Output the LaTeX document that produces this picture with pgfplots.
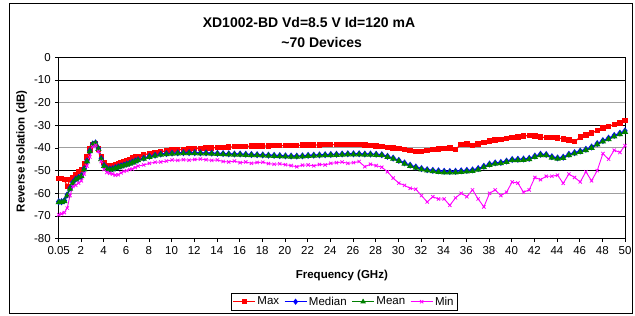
\documentclass[border=0pt]{standalone}
\usepackage{pgfplots}
\pgfplotsset{compat=1.18}
\usepackage{pgfplotstable}
\usepackage{fontspec}
\setmainfont{Liberation Sans}

\pgfplotstableread{
x y
0.05 -53.5
0.3 -53.5
0.55 -54
0.8 -57
1.05 -54
1.3 -53
1.55 -52
1.8 -50.5
2.05 -49.5
2.3 -47
2.55 -44
2.8 -40.5
3.05 -38.5
3.3 -38
3.55 -40.5
3.8 -44
4.05 -46.5
4.3 -47.8
4.55 -48.2
4.8 -48
5.05 -47.5
5.3 -47
5.55 -46.5
5.8 -46
6.05 -45.5
6.3 -45
6.55 -44.5
6.8 -44
7.05 -43.7
7.55 -43
8.05 -42.5
8.55 -42
9.05 -41.6
9.55 -41.3
10.05 -41
10.55 -40.8
11.05 -40.6
11.55 -40.5
12.05 -40.3
12.55 -40.2
13.05 -40
13.55 -40
14.05 -39.8
14.55 -39.7
15.05 -39.6
15.55 -39.5
16.05 -39.4
16.55 -39.3
17.05 -39.2
17.55 -39.2
18.05 -39.1
18.55 -39.2
19.05 -39
19.55 -39
20.05 -39
20.55 -38.9
21.05 -38.9
21.55 -38.8
22.05 -38.8
22.55 -38.7
23.05 -38.7
23.55 -38.6
24.05 -38.6
24.55 -38.5
25.05 -38.5
25.55 -38.4
26.05 -38.5
26.55 -38.5
27.05 -38.8
27.55 -39
28.05 -39.2
28.55 -39.5
29.05 -39.7
29.55 -40
30.05 -40.3
30.55 -40.8
31.05 -41.2
31.55 -41.6
32.05 -41.5
32.55 -41.2
33.05 -40.8
33.55 -40.4
34.05 -40.2
34.55 -40
35.05 -40.6
35.55 -38.5
36.05 -38.2
36.55 -39
37.05 -38.2
37.55 -37.5
38.05 -37
38.55 -36.5
39.05 -36.2
39.55 -35.8
40.05 -35.5
40.55 -35.2
41.05 -34.8
41.55 -34.5
42.05 -34.7
42.55 -35.2
43.05 -35.5
43.55 -35.3
44.05 -35.6
44.55 -36
45.05 -36.5
45.55 -37.3
46.05 -35.2
46.55 -34.3
47.05 -33.5
47.55 -32.3
48.05 -31.2
48.55 -30.5
49.05 -29.7
49.55 -29
50 -28
}\maxdata

\pgfplotstableread{
x y
0.05 -63.7
0.3 -63.7
0.55 -63.2
0.8 -60.7
1.05 -57.7
1.3 -55.2
1.55 -53.7
1.8 -53
2.05 -52.2
2.3 -49.2
2.55 -45.7
2.8 -41.2
3.05 -38.3
3.3 -37.8
3.55 -40.3
3.8 -44.7
4.05 -47.7
4.3 -49
4.55 -49.3
4.8 -49.2
5.05 -48.7
5.3 -48.3
5.55 -47.9
5.8 -47.5
6.05 -47.1
6.3 -46.7
6.55 -46.2
6.8 -45.7
7.05 -45.2
7.55 -44.5
8.05 -43.7
8.55 -43.2
9.05 -42.7
9.55 -42.5
10.05 -42.3
10.55 -42.2
11.05 -42.1
11.55 -42.1
12.05 -42.1
12.55 -42.2
13.05 -42.2
13.55 -42.3
14.05 -42.4
14.55 -42.5
15.05 -42.6
15.55 -42.7
16.05 -42.7
16.55 -42.8
17.05 -42.9
17.55 -43
18.05 -43.1
18.55 -43.2
19.05 -43.3
19.55 -43.4
20.05 -43.5
20.55 -43.6
21.05 -43.6
21.55 -43.5
22.05 -43.3
22.55 -43.2
23.05 -43.1
23.55 -43
24.05 -42.9
24.55 -42.8
25.05 -42.7
25.55 -42.6
26.05 -42.6
26.55 -42.6
27.05 -42.7
27.55 -42.7
28.05 -42.8
28.55 -43
29.05 -43.7
29.55 -44.5
30.05 -45.5
30.55 -46.6
31.05 -47.6
31.55 -48.4
32.05 -49.1
32.55 -49.6
33.05 -49.9
33.55 -50.1
34.05 -50.3
34.55 -50.4
35.05 -50.3
35.55 -50.1
36.05 -49.9
36.55 -49.7
37.05 -49.1
37.55 -48.1
38.05 -47.1
38.55 -46.6
39.05 -46.4
39.55 -45.8
40.05 -45.1
40.55 -45
41.05 -44.9
41.55 -44.6
42.05 -43.6
42.55 -42.8
43.05 -42.9
43.55 -43.9
44.05 -44.4
44.55 -44.1
45.05 -42.8
45.55 -42.1
46.05 -41.4
46.55 -40.6
47.05 -39.6
47.55 -38.1
48.05 -36.8
48.55 -35.7
49.05 -34.5
49.55 -33.5
50 -32.5
}\mediandata

\pgfplotstableread{
x y
0.05 -64
0.3 -64
0.55 -63.5
0.8 -61
1.05 -58
1.3 -55.5
1.55 -54
1.8 -53.3
2.05 -52.5
2.3 -49.5
2.55 -46
2.8 -41.5
3.05 -38.5
3.3 -38
3.55 -40.5
3.8 -45
4.05 -48
4.3 -49.3
4.55 -49.6
4.8 -49.5
5.05 -49
5.3 -48.6
5.55 -48.2
5.8 -47.8
6.05 -47.4
6.3 -47
6.55 -46.5
6.8 -46
7.05 -45.5
7.55 -44.8
8.05 -44
8.55 -43.5
9.05 -43
9.55 -42.8
10.05 -42.6
10.55 -42.5
11.05 -42.4
11.55 -42.4
12.05 -42.4
12.55 -42.5
13.05 -42.5
13.55 -42.6
14.05 -42.7
14.55 -42.8
15.05 -42.9
15.55 -43
16.05 -43
16.55 -43.1
17.05 -43.2
17.55 -43.3
18.05 -43.4
18.55 -43.5
19.05 -43.6
19.55 -43.7
20.05 -43.8
20.55 -43.9
21.05 -43.9
21.55 -43.8
22.05 -43.6
22.55 -43.5
23.05 -43.4
23.55 -43.3
24.05 -43.2
24.55 -43.1
25.05 -43
25.55 -42.9
26.05 -42.9
26.55 -42.9
27.05 -43
27.55 -43
28.05 -43.1
28.55 -43.3
29.05 -44
29.55 -44.8
30.05 -45.8
30.55 -47
31.05 -48
31.55 -48.8
32.05 -49.5
32.55 -50
33.05 -50.3
33.55 -50.6
34.05 -50.8
34.55 -50.9
35.05 -50.8
35.55 -50.6
36.05 -50.4
36.55 -50.2
37.05 -49.6
37.55 -48.5
38.05 -47.5
38.55 -47
39.05 -46.8
39.55 -46.2
40.05 -45.5
40.55 -45.4
41.05 -45.3
41.55 -45
42.05 -44
42.55 -43.2
43.05 -43.3
43.55 -44.3
44.05 -44.8
44.55 -44.5
45.05 -43.2
45.55 -42.5
46.05 -41.8
46.55 -41
47.05 -40
47.55 -38.5
48.05 -37.2
48.55 -36.2
49.05 -35
49.55 -34
50 -33
}\meandata

\pgfplotstableread{
x y
0.05 -69.5
0.3 -69
0.55 -68.5
0.8 -66.5
1.05 -61
1.3 -57
1.55 -56.5
1.8 -55.5
2.05 -54.5
2.3 -51.5
2.55 -48
2.8 -44
3.05 -39.5
3.3 -38.8
3.55 -41.5
3.8 -46
4.05 -49.5
4.3 -50.8
4.55 -51.2
4.8 -51.5
5.05 -52
5.3 -51.8
5.55 -51
5.8 -50.3
6.05 -50
6.3 -49.5
6.55 -49.3
6.8 -48.6
7.05 -48
7.55 -47.5
8.05 -46.8
8.55 -46.3
9.05 -46.2
9.55 -45.8
10.05 -45.3
10.55 -45.5
11.05 -45.2
11.55 -45.4
12.05 -45.1
12.55 -44.9
13.05 -45.2
13.55 -45.5
14.05 -45.3
14.55 -46
15.05 -46.2
15.55 -45.8
16.05 -46.5
16.55 -46.2
17.05 -46.8
17.55 -46.4
18.05 -46.3
18.55 -46.9
19.05 -47.2
19.55 -47
20.05 -47.4
20.55 -47.8
21.05 -48.3
21.55 -47.6
22.05 -47.5
22.55 -47.9
23.05 -47.3
23.55 -47.5
24.05 -46.8
24.55 -46.5
25.05 -46.2
25.55 -46.8
26.05 -46.5
26.55 -46
27.05 -48.3
27.55 -47.2
28.05 -47.8
28.55 -48.5
29.05 -50.5
29.55 -53.3
30.05 -55.5
30.55 -56.5
31.05 -57.8
31.55 -58.2
32.05 -61
32.55 -63.8
33.05 -61.5
33.55 -62.5
34.05 -62.5
34.55 -65.3
35.05 -62
35.55 -60
36.05 -61.5
36.55 -58.5
37.05 -62.5
37.55 -66
38.05 -60
38.55 -58.5
39.05 -61
39.55 -59.5
40.05 -55
40.55 -55.5
41.05 -59.5
41.55 -58.5
42.05 -53
42.55 -54
43.05 -52.5
43.55 -52.5
44.05 -52
44.55 -55.6
45.05 -51.5
45.55 -53
46.05 -55
46.55 -50.5
47.05 -54.5
47.55 -50
48.05 -42.5
48.55 -45
49.05 -41
49.55 -42
50 -39
}\mindata

\definecolor{cMax}{RGB}{255,0,0}
\definecolor{cMed}{RGB}{0,0,255}
\definecolor{cMean}{RGB}{0,128,0}
\definecolor{cMin}{RGB}{255,0,255}

\newcommand{\lblfont}{\fontsize{11.5bp}{13bp}\selectfont}

\begin{document}
\begin{tikzpicture}
\path[use as bounding box] (0bp,0bp) rectangle (635bp,316bp);
\fill[white] (0bp,0bp) rectangle (635bp,316bp);
\draw[black, line width=0.9bp] (9bp,2.5bp) rectangle (632bp,313bp);
\node[font=\fontsize{14bp}{16bp}\selectfont\bfseries, inner sep=0pt] at (309bp,293.8bp) {XD1002-BD Vd=8.5 V Id=120 mA};
\node[font=\fontsize{14bp}{16bp}\selectfont\bfseries, inner sep=0pt] at (321.7bp,273.3bp) {\textasciitilde70 Devices};
\begin{axis}[
  at={(58.7bp,77.3bp)}, anchor=south west,
  scale only axis, width=566.3bp, height=181.6bp,
  xmin=0.05, xmax=50, ymin=-80, ymax=0,
  xtick={0.05,2,4,6,8,10,12,14,16,18,20,22,24,26,28,30,32,34,36,38,40,42,44,46,48,50},
  xticklabels={0.05,2,4,6,8,10,12,14,16,18,20,22,24,26,28,30,32,34,36,38,40,42,44,46,48,50},
  ytick={-80,-70,-50,-30,-10,0},
  extra y ticks={-60,-40,-20},
  extra y tick style={grid style={draw=gray!75, line width=1.1bp}},
  ymajorgrids,
  grid style={draw=black, line width=0.6bp},
  tick align=outside, xtick pos=bottom, ytick pos=left,
  major tick length=3.5bp,
  tick style={black, line width=0.6bp},
  axis line style={black, line width=0.9bp},
  /pgf/number format/assume math mode=true,
  ticklabel style={font=\lblfont},
  xticklabel style={yshift=-1bp},
  yticklabel style={xshift=-1bp},
  xlabel={\bfseries Frequency (GHz)},
  xlabel style={font=\lblfont, at={(axis description cs:0.5,-0.205)}, anchor=center},
  ylabel={\bfseries Reverse Isolation (dB)},
  ylabel style={font=\lblfont, at={(axis description cs:-0.0655,0.48)}, anchor=center, rotate=0},
  legend columns=4,
  legend style={at={(axis description cs:0.504,-0.347)}, anchor=center, draw=black, line width=0.6bp,
    font=\lblfont, inner sep=1.5bp,
    /tikz/every even column/.append style={column sep=3bp}},
  legend image code/.code={\draw[mark repeat=2,mark phase=2,line width=0.7bp] plot coordinates {(0cm,0cm) (0.39cm,0cm) (0.78cm,0cm)};},
  every axis plot/.append style={line width=1.2bp},
  clip=true,
]
\addplot[cMax, mark=square*, mark size=2.1bp, mark options={solid}] table[x=x,y=y] {\maxdata};
\addlegendentry{Max}
\addplot[cMed, mark=diamond*, mark size=2.6bp] table[x=x,y=y] {\mediandata};
\addlegendentry{Median}
\addplot[cMean, mark=triangle*, mark size=2.5bp] table[x=x,y=y] {\meandata};
\addlegendentry{Mean}
\addplot[cMin, mark=x, mark size=2.3bp, line width=0.9bp, mark options={line width=0.8bp}] table[x=x,y=y] {\mindata};
\addlegendentry{Min}
\end{axis}
\end{tikzpicture}
\end{document}
